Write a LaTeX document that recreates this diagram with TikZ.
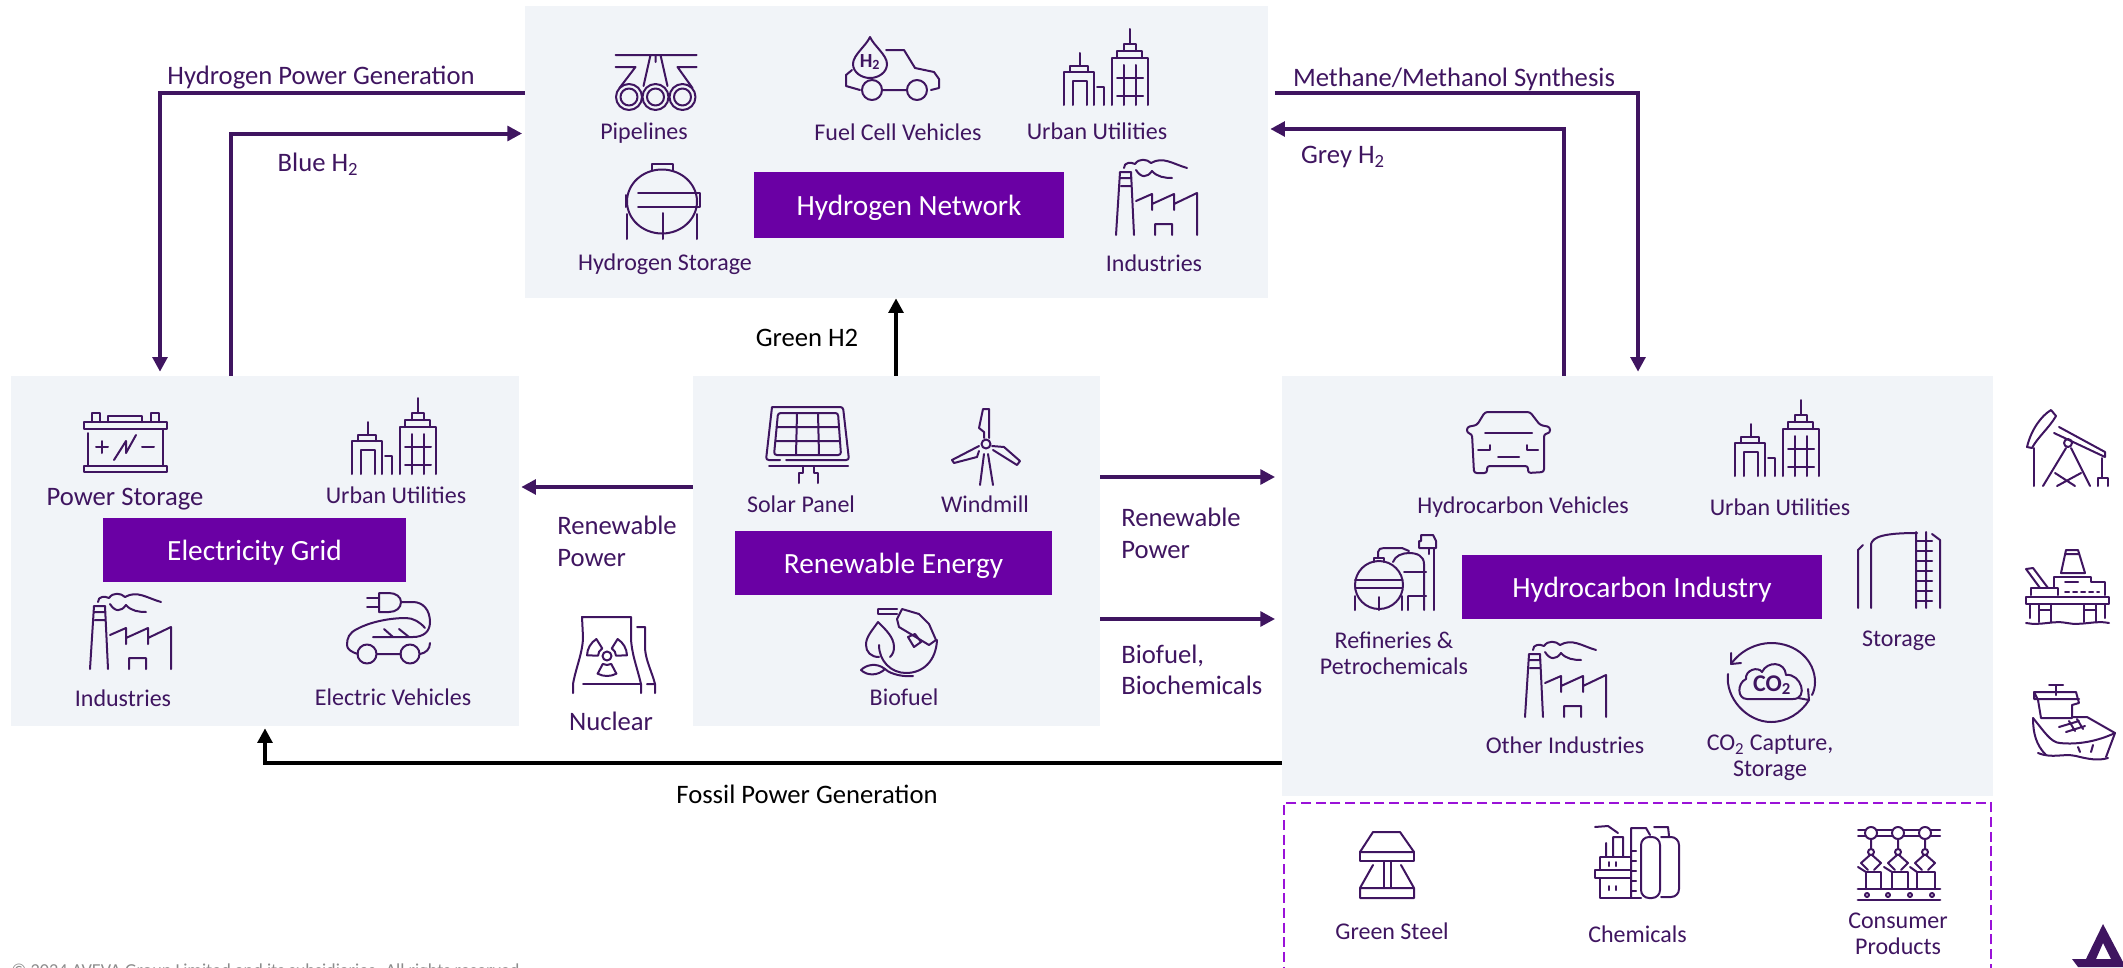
\documentclass[tikz,border=0pt]{standalone}
\usepackage{fontspec}
\setmainfont{Carlito}
\usetikzlibrary{arrows.meta}

\definecolor{ink}{HTML}{3F1560}
\definecolor{panelbg}{HTML}{F1F4F8}
\definecolor{headbg}{HTML}{6A00A4}
\definecolor{dashcol}{HTML}{9A12D8}
\definecolor{notegrey}{HTML}{8C8C8C}

\newcommand{\fsize}[1]{\fontsize{#1}{#1}\selectfont}

\tikzset{
  every pic/.style={yscale=-1},
  panel/.style 2 args={fill=panelbg, inner sep=0pt, minimum width=#1*0.75pt, minimum height=#2*0.75pt},
  head/.style 2 args={fill=headbg, text=white, inner sep=0pt, font=\fsize{22}, text height=16pt, text depth=1pt, minimum width=#1*0.75pt, minimum height=#2*0.75pt},
  lbl/.style={text=ink, inner sep=0pt, font=\fsize{18}},
  lblbig/.style={text=ink, inner sep=0pt, font=\fsize{20}},
  flow/.style={draw=ink, line width=3pt, -{Triangle[length=11pt,width=11pt]}},
  flowblack/.style={draw=black, line width=3pt, -{Triangle[length=11pt,width=11pt]}},
  icon/.style={draw=ink, line width=1.5pt, line join=round, line cap=round},
  cityicon/.pic={
    \draw[icon] (47.5,76) -- (47.5,29) -- (84,29) -- (84,76) (53,29) -- (53,22) -- (78,22) -- (78,29) (60,22) -- (60,15) -- (72,15) -- (72,22) (65.5,15) -- (65.5,0);
    \draw[icon] (60,36) -- (60,76) (72,36) -- (72,76) (53,49) -- (79,49) (53,67) -- (79,67);
    \draw[icon] (0,76) -- (0,43) -- (30,43) -- (30,76) (6,43) -- (6,37) -- (24,37) -- (24,43) (15.5,37) -- (15.5,24);
    \draw[icon] (9,76) -- (9,52) -- (23,52) -- (23,76) (33,58) -- (40,58) -- (40,76);
  },
  factoryicon/.pic={
    \draw[icon] (1,77) -- (5,14) -- (16,14) -- (19,77) (6,20) -- (16,20) (6,28) -- (16,28);
    \draw[icon] (9,10) .. controls (9,4) and (16,4) .. (20,6) .. controls (24,0) and (32,1) .. (36,5) .. controls (48,-2) and (58,6) .. (72,10);
    \draw[icon] (21,12) .. controls (26,20) and (32,20) .. (37,13) .. controls (42,19) and (50,20) .. (57,20);
    \draw[icon] (21,43) -- (37,36) -- (37,52) (37,46) -- (59,36) -- (59,52) (59,46) -- (82,35) -- (82,77) (40,77) -- (40,66) -- (57,66) -- (57,77);
  },
  pipeicon/.pic={
    \draw[icon] (0,1) -- (81,1) (0,13) -- (20,13) -- (4,34) (81,13) -- (62,13) -- (77,34);
    \draw[icon] (35,1) -- (28,32) (45,1) -- (52,32) (40,1) -- (40,8);
    \foreach \cx in {13.5,40,67} {
      \draw[icon] (\cx,43) circle (13);
      \draw[icon] (\cx,43) circle (8.5);
    }
  },
  fcvicon/.pic={
    \draw[icon] (26,0) .. controls (22,9) and (9,18) .. (9,27) .. controls (9,35) and (17,41) .. (26,41) .. controls (35,41) and (43,35) .. (43,27) .. controls (43,18) and (30,9) .. (26,0) -- cycle;
    \node[text=ink, inner sep=0pt, font=\fsize{15}\bfseries] (fcvtxt) at (26,25) {H\textsubscript{2}};
    \draw[icon] (42,13) -- (60,13) -- (71,31) -- (90,35) -- (95,42) -- (95,51) -- (87,53);
    \draw[icon] (8,33) -- (2,38) -- (2,49) -- (16,53) (39,53) -- (62,53);
    \draw[icon] (28,53) circle (10) (73,53) circle (10);
  },
  tankicon/.pic={
    \draw[icon] (27.6,6) -- (27.6,0) -- (48.5,0) -- (48.5,6);
    \draw[icon] (38,37.5) ellipse (35 and 32);
    \draw[icon] (14,29) -- (76,29) -- (76,43) -- (14,43) (2,31) -- (2,43);
    \draw[icon] (2.5,50) -- (2.5,75) (73,50) -- (73,75) (39,49) -- (39,75);
  },
  batteryicon/.pic={
    \draw[icon] (0,9) rectangle (83,16);
    \draw[icon] (7.5,9) -- (7.5,0) -- (16,0) -- (16,9) (67,9) -- (67,0) -- (75,0) -- (75,9) (24,9) -- (24,2.5) -- (58,2.5) -- (58,9);
    \draw[icon] (4,20) -- (4,53) (79,16) -- (79,53);
    \draw[icon] (0,53) rectangle (83,59);
    \draw[icon] (12,34) -- (24,34) (18,28) -- (18,40) (58,34) -- (70,34);
    \draw[icon] (30,47) -- (42,28) -- (42,40) -- (52,22);
  },
  evicon/.pic={
    \draw[icon] (32,1) -- (42,1) .. controls (49,1) and (54,5) .. (54,10) .. controls (54,16) and (49,20) .. (42,20) -- (32,20) -- cycle;
    \draw[icon] (20,6) -- (32,6) (20,15) -- (32,15);
    \draw[icon] (54,10) -- (66,10) .. controls (76,10) and (83,18) .. (83,30) .. controls (83,40) and (76,45) .. (66,45) -- (26,45);
    \draw[icon] (11,62) .. controls (4,60) and (0,57) .. (0,53) .. controls (0,46) and (2,41) .. (10,37) .. controls (25,29) and (45,26) .. (59,26) .. controls (66,26) and (73,30) .. (78,36);
    \draw[icon] (37,37) -- (46,45) (52,37) -- (62,45) (30,62) -- (54,62);
    \draw[icon] (20,62) circle (9.5) (63,62) circle (9.5);
    \draw[icon] (73,62) .. controls (79,61) and (83,57) .. (83,51);
  },
  solaricon/.pic={
    \draw[icon, rounded corners=2pt] (6,1) -- (77,1) -- (83,54) -- (20,54) (14,54) -- (0,54) -- (6,1);
    \draw[icon] (3,60) -- (82,60) (37,61) -- (37,67) -- (33,67) -- (33,77) (48,61) -- (48,67) -- (52,67) -- (52,77);
    \draw[icon, rounded corners=2pt] (12,7) -- (72,7) -- (75,49) -- (8,49) -- cycle;
    \draw[icon] (10.5,21) -- (73,21) (9.5,35) -- (74,35) (31,7) -- (30,49) (52,7) -- (53,49);
  },
  millicon/.pic={
    \draw[icon] (35,36) circle (4.5);
    \draw[icon] (32,1) -- (38,1) -- (38,30) (33,30) -- (33,24) -- (28,20) -- (32,1);
    \draw[icon] (28,38) -- (1,52) -- (3,55) -- (26,49) -- (28,43);
    \draw[icon] (41,38) -- (53,39) -- (69,53) -- (66,57) -- (42,42);
    \draw[icon] (33,46) -- (29,77) (37,46) -- (42,77);
  },
  bioicon/.pic={
    \draw[icon] (17,2) -- (36,2) (17,2) -- (17,7) -- (36,7);
    \draw[icon] (36,12) -- (41,2) -- (58,7) -- (68,17) -- (75,33) -- (68,38) -- (38,20) -- cycle;
    \draw[icon] (47,30) -- (54,27) -- (60,35) -- (53,40) -- cycle;
    \draw[icon] (17,15) .. controls (10,25) and (5,30) .. (5,38) .. controls (5,45) and (10,50) .. (18,50);
    \draw[icon] (17,15) .. controls (24,22) and (33,30) .. (33,40) .. controls (33,44) and (32,47) .. (29,50);
    \draw[icon] (18,38) .. controls (18,54) and (30,66) .. (45,66) .. controls (62,66) and (75,54) .. (76,33);
    \draw[icon] (24,62) .. controls (30,68) and (45,70) .. (52,69);
    \draw[icon] (0,63) .. controls (5,58) and (15,55) .. (24,62) .. controls (17,69) and (6,69) .. (0,63) -- cycle;
  },
  nuclearicon/.pic={
    \draw[icon] (1,76) -- (1,67) .. controls (4,50) and (11,35) .. (11,20) -- (10,0) -- (59,0) -- (59,20) .. controls (59,35) and (65,50) .. (69,67) -- (69,76);
    \draw[icon] (11,67) -- (68,67);
    \draw[icon] (65,10) -- (73,10) -- (73,30) .. controls (73,42) and (80,55) .. (83,67) -- (83,76) (75,67) -- (83,67);
    \draw[icon] (35,39) circle (4.5);
    \foreach \rad in {-150,-30,90} {
      \draw[icon, shift={(35,39)}] (\rad-28:9) -- (\rad-28:20) arc (\rad-28:\rad+28:20) -- (\rad+28:9) arc (\rad+28:\rad-28:9) -- cycle;
    }
  },
  caricon/.pic={
    \draw[icon, rounded corners=2pt] (18,0) -- (63,0) -- (73,13) -- (83,15) -- (83,21) -- (77,22) -- (77,60) -- (61,61) -- (61,54) -- (20,54) -- (20,61) -- (7,61) -- (5,22) -- (0,21) -- (0,15) -- (10,13) -- cycle;
    \draw[icon] (18,21) -- (65,21) (11,38) -- (23,38) -- (23,33) (71,38) -- (60,38) -- (60,33) (31,45) -- (52,45);
  },
  refineryicon/.pic={
    \draw[icon] (25,51) ellipse (24 and 24);
    \draw[icon] (20,28) -- (20,24) -- (30,24) -- (30,28) (1,46) -- (48,46) (1,54) -- (48,54);
    \draw[icon] (1,62) -- (1,76) (48,62) -- (48,76) (25,63) -- (25,76);
    \draw[icon] (24,24) -- (24,18) .. controls (24,15) and (27,14) .. (30,14) -- (48,14) -- (55,17);
    \draw[icon] (39,28) .. controls (41,22) and (48,19) .. (55,19) .. controls (63,19) and (70,22) .. (70,30) -- (70,76);
    \draw[icon] (50,38) -- (72,38) (54,62) -- (72,62) (54,62) -- (54,76);
    \draw[icon] (80,14) -- (80,76) (75,14) -- (75,20);
    \draw[icon] (67,1) -- (79,1) -- (82,7) -- (82,14) -- (65,14) -- (65,7) -- (67,7) -- cycle;
  },
  storeicon/.pic={
    \draw[icon] (0,76) -- (0,18) -- (5,13) (13,76) -- (13,12) .. controls (15,5) and (25,1) .. (59,1);
    \draw[icon] (58,0) -- (58,76) (68,0) -- (68,76) (74,2) -- (82,8) -- (82,76);
    \foreach \rung in {9,19,29,39,49,59,69} {
      \draw[icon] (58,\rung) -- (74,\rung);
    }
  },
  cotwoicon/.pic={
    \draw[icon] (4,21) .. controls (14,7) and (30,0) .. (44,0) .. controls (70,0) and (88,18) .. (88,39) .. controls (88,44) and (87,48) .. (85,52);
    \draw[icon] (4,21) -- (4,10) (4,21) -- (14,20);
    \draw[icon] (1,31) .. controls (-2,55) and (20,79) .. (44,79) .. controls (60,79) and (74,70) .. (82,57);
    \draw[icon] (82,57) -- (81,46) (82,57) -- (71,55);
    \draw[icon] (20,56) .. controls (10,56) and (10,40) .. (19,36) .. controls (18,27) and (31,23) .. (35,29) .. controls (40,18) and (58,18) .. (59,32) .. controls (74,30) and (82,56) .. (66,56) -- cycle;
    \node[text=ink, inner sep=0pt, font=\fsize{18}\bfseries] (cotxt) at (45,42) {CO\textsubscript{2}};
  },
  pumpicon/.pic={
    \draw[icon] (24,0) .. controls (14,6) and (4,20) .. (0,37) -- (5,38) .. controls (10,28) and (22,18) .. (29,6) -- cycle;
    \draw[icon] (32,17) -- (78,42) (27,23) -- (78,47) (78,42) -- (78,47);
    \draw[icon] (41,33) circle (4);
    \draw[icon] (39,38) -- (16,76) (44,38) -- (63,76) (28,63) -- (48,76) (54,63) -- (30,76);
    \draw[icon] (7,38) -- (7,76) (75,48) -- (75,68) (71,76) -- (71,68) -- (81,68) -- (81,76);
  },
  platformicon/.pic={
    \draw[icon] (40,0) -- (52,0) -- (59,23) -- (35,23) -- cycle (40,4) -- (52,4);
    \draw[icon] (0,19) -- (7,18) -- (22,38) (0,19) -- (14,38);
    \draw[icon] (28,38) -- (28,27) -- (65,27) -- (65,32) -- (79,32) -- (79,45) (39,32) -- (52,32);
    \draw[icon] (5,45) -- (5,38) -- (32,38) -- (32,45);
    \draw[icon, dashed] (39,42) -- (73,42);
    \draw[icon] (0,47) rectangle (83,54);
    \draw[icon] (13,54) -- (13,72) (25,54) -- (25,72) (58,54) -- (58,72) (70,54) -- (70,72) (13,60) -- (25,60) (58,60) -- (70,60) (4,54) -- (4,68) (79,54) -- (79,68);
    \draw[icon] (0,73) .. controls (15,76) and (28,70) .. (41,73) .. controls (55,76) and (70,70) .. (83,73);
  },
  shipicon/.pic={
    \draw[icon] (16,0) -- (30,0) (23,0) -- (23,10);
    \draw[icon] (1,7) -- (43,7) -- (46,18) -- (39,20) -- (39,33) -- (8,33) -- (5,15) -- (1,7) -- (1,14) -- (46,14);
    \draw[icon] (0,33) .. controls (10,45) and (18,58) .. (27,58) .. controls (45,60) and (65,56) .. (82,48) -- (54,32) -- (39,32);
    \draw[icon] (0,33) .. controls (0,48) and (3,60) .. (13,70);
    \draw[icon] (82,48) -- (73,72);
    \draw[icon] (5,68) .. controls (20,74) and (30,68) .. (43,71) .. controls (55,74) and (65,76) .. (75,73);
    \draw[icon] (26,42) -- (46,36) (33,47) -- (52,41) (36,36) -- (42,46) (44,34) -- (50,44) (45,62) -- (47,67) (60,60) -- (58,67);
  },
  steelicon/.pic={
    \draw[icon] (13,0) -- (40,0) -- (54,20) -- (0,20) -- cycle;
    \draw[icon] (0,20) rectangle (54,29) (24,29) -- (24,56) (31,29) -- (31,56);
    \draw[icon] (0,56) rectangle (54,66) (13,33) -- (0,56) (41,33) -- (54,56);
  },
  chemicon/.pic={
    \draw[icon, rounded corners=6pt] (46,11) rectangle (65,72);
    \draw[icon, rounded corners=6pt] (66,11) -- (84,11) -- (84,71) -- (66,71);
    \draw[icon] (36,71) -- (36,2) -- (51,2) -- (55,9) (59,1) -- (73,1) -- (74,10);
    \draw[icon] (36,25) -- (41,25) (36,35) -- (41,35) (36,45) -- (41,45) (36,55) -- (41,55) (36,65) -- (41,65);
    \draw[icon] (0,1) -- (13,0) -- (23,7) (18,31) -- (18,11) -- (28,11) -- (28,31) (11,17) -- (11,31);
    \draw[icon] (5,31) -- (35,31) (5,31) -- (5,44) -- (0,44) -- (0,52) -- (5,52) -- (5,72) -- (46,72) (0,44) -- (35,44) (0,52) -- (35,52);
    \draw[icon] (14,36) -- (14,40) (21,36) -- (21,40) (14,60) -- (14,64) (21,60) -- (21,64);
  },
  consumericon/.pic={
    \draw[icon] (0,3) -- (82,3) (0,9) -- (82,9);
    \foreach \arm in {13,40,67} {
      \draw[icon, fill=white] (\arm,6) circle (6);
      \draw[icon] (\arm,12) -- (\arm,22) (\arm,25) circle (3);
      \draw[icon] (\arm-1,28) -- (\arm-10,36) -- (\arm-3,43) (\arm+1,28) -- (\arm+10,36) -- (\arm+3,43);
    }
    \draw[icon] (8,62) -- (8,45) -- (23,45) -- (23,62) (34,62) -- (34,45) -- (50,45) -- (50,62) (59,62) -- (59,45) -- (77,45) -- (77,62);
    \draw[icon] (0,40) -- (8,45) (26,40) -- (34,45) (52,40) -- (59,45);
    \draw[icon, line width=2.2pt] (0,62) -- (82,62) (0,73) -- (82,73);
    \foreach \roller in {9,30,52,74} {
      \draw[icon] (\roller,68) circle (2);
    }
  },
}

\begin{document}
\begin{tikzpicture}[x=0.75pt,y=0.75pt,yscale=-1,xscale=1]
\path[use as bounding box, clip] (0,0) rectangle (2123,967);

%Panels
\node (hbox) [panel={743}{292}] at (896.5,152) {};
\node (ebox) [panel={508}{350}] at (265,551) {};
\node (rbox) [panel={407}{350}] at (896.5,551) {};
\node (cbox) [panel={711}{420}] at (1637.5,586) {};
\node (pbox) [draw=dashcol, line width=2.2pt, dash pattern=on 7.5pt off 3.5pt, inner sep=0pt, minimum width=707*0.75pt, minimum height=197*0.75pt] at (1637.5,901.5) {};

%Headings
\node (hhead) [head={310}{66}] at (909,205) {Hydrogen Network};
\node (ehead) [head={303}{64}] at (254.5,550) {Electricity Grid};
\node (rhead) [head={317}{64}] at (893.5,563) {Renewable Energy};
\node (chead) [head={360}{64}] at (1642,587) {Hydrocarbon Industry};

%Free ends of the connectors
\coordinate (hpgy) at (0,92.5);
\coordinate (hpgx) at (160,0);
\coordinate (bluey) at (0,133.5);
\coordinate (bluex) at (231,0);
\coordinate (methy) at (0,93);
\coordinate (methx) at (1638,0);
\coordinate (greyy) at (0,129);
\coordinate (greyx) at (1564,0);
\coordinate (greenx) at (896,0);
\coordinate (rpleft) at (0,487);
\coordinate (rpright) at (0,477);
\coordinate (bioy) at (0,619);
\coordinate (fossily) at (0,763);
\coordinate (fossilx) at (265,0);

%Connectors
\draw [flow, shorten >=3pt] (hbox.west |- hpgy) -| (hpgx |- ebox.north);
\draw [flow, shorten >=2pt] (bluex |- ebox.north) |- (hbox.west |- bluey);
\draw [flow, shorten <=5pt, shorten >=3pt] (hbox.east |- methy) -| (methx |- cbox.north);
\draw [flow, shorten >=1.5pt] (greyx |- cbox.north) |- (hbox.east |- greyy);
\draw [flowblack] (greenx |- rbox.north) -- (greenx |- hbox.south);
\draw [flow, shorten >=1.5pt] (rbox.west |- rpleft) -- (ebox.east |- rpleft);
\draw [flow, shorten >=5pt] (rbox.east |- rpright) -- (cbox.west |- rpright);
\draw [flow, shorten >=5pt] (rbox.east |- bioy) -- (cbox.west |- bioy);
\draw [flowblack, shorten >=1.5pt] (cbox.west |- fossily) -| (fossilx |- ebox.south);

%Flow labels
\node (hpg) [lblbig, anchor=base] at (321,84) {Hydrogen Power Generation};
\node (blue) [lblbig, anchor=base] at (318,171) {Blue H\textsubscript{2}};
\node (meth) [lblbig, anchor=base] at (1454,86) {Methane/Methanol Synthesis};
\node (grey) [lblbig, anchor=base] at (1343,163) {Grey H\textsubscript{2}};
\node (green) [lblbig, text=black, anchor=base] at (807,346) {Green H2};
\node (fossil) [lblbig, text=black, anchor=base] at (807,803) {Fossil Power Generation};
\node (rpl) [lblbig, anchor=west, align=left] at (557,541) {Renewable\\[4pt]Power};
\node (rpr) [lblbig, anchor=west, align=left] at (1121,533) {Renewable\\[4pt]Power};
\node (bfl) [lblbig, anchor=west, align=left] at (1121,670) {Biofuel,\\[3pt]Biochemicals};

%Hydrogen network
\pic (hpipe) at (615.5,54) {pipeicon};
\pic (hfcv) at (844,37) {fcvicon};
\pic (hcity) at (1064,29) {cityicon};
\pic (htank) at (624,164) {tankicon};
\pic (hfact) at (1115,158) {factoryicon};
\node (hpipel) [lbl] at (644,133) {Pipelines};
\node (hfcvl) [lbl] at (898,132) {Fuel Cell Vehicles};
\node (hcityl) [lbl] at (1097,131) {Urban Utilities};
\node (htankl) [lbl] at (665,264) {Hydrogen Storage};
\node (hfactl) [lbl] at (1154,263) {Industries};

%Electricity grid
\pic (ebatt) at (84,413) {batteryicon};
\pic (ecity) at (352,398) {cityicon};
\pic (efact) at (89,592) {factoryicon};
\pic (eev) at (347,592) {evicon};
\node (ebattl) [lblbig] at (125,499) {Power Storage};
\node (ecityl) [lbl] at (396,495) {Urban Utilities};
\node (efactl) [lbl] at (123,698) {Industries};
\node (eevl) [lbl] at (393,697) {Electric Vehicles};

%Renewable energy
\pic (rsolar) at (766,406) {solaricon};
\pic (rmill) at (951,408) {millicon};
\pic (rbio) at (861,607) {bioicon};
\pic (rnuc) at (572,617) {nuclearicon};
\node (rsolarl) [lbl] at (801,504) {Solar Panel};
\node (rmilll) [lbl] at (985,504) {Windmill};
\node (rbiol) [lbl] at (904,697) {Biofuel};
\node (rnucl) [lblbig] at (611,721) {Nuclear};

%Hydrocarbon industry
\pic (ccar) at (1467,412) {caricon};
\pic (ccity) at (1735,400) {cityicon};
\pic (cref) at (1354,534) {refineryicon};
\pic (cstore) at (1858,532) {storeicon};
\pic (cfact) at (1524,640) {factoryicon};
\pic (ccoo) at (1727,643) {cotwoicon};
\node (ccarl) [lbl] at (1523,507) {Hydrocarbon Vehicles};
\node (ccityl) [lbl] at (1780,507) {Urban Utilities};
\node (crefl) [lbl, align=center] at (1394,653) {Refineries \&\\[1.5pt]Petrochemicals};
\node (cstorel) [lbl] at (1899,641) {Storage};
\node (cfactl) [lbl] at (1565,745) {Other Industries};
\node (ccool) [lbl, align=center] at (1770,758) {CO\textsubscript{2} Capture,\\[1.5pt]Storage};

%Right column
\pic (pump) at (2027,410) {pumpicon};
\pic (platform) at (2026,550) {platformicon};
\pic (ship) at (2033,685) {shipicon};

%Dashed box
\pic (psteel) at (1360,832) {steelicon};
\pic (pchem) at (1595,826) {chemicon};
\pic (pcons) at (1858,827) {consumericon};
\node (psteell) [lbl] at (1392,931) {Green Steel};
\node (pchoml) [lbl] at (1637.5,934) {Chemicals};
\node (pconsl) [lbl, align=center] at (1898,934) {Consumer\\[1.5pt]Products};

%Footer
\node (note) [text=notegrey, inner sep=0pt, font=\fsize{13.7}, anchor=base west] at (11,976) {© 2024 AVEVA Group Limited and its subsidiaries. All rights reserved.};
\fill [ink, even odd rule] (2103,924) -- (2123,962) -- (2123,967) -- (2078,967) -- (2072,959) -- (2086,959) -- cycle (2103,943) -- (2096,959) -- (2111,959) -- cycle;
\end{tikzpicture}
\end{document}
